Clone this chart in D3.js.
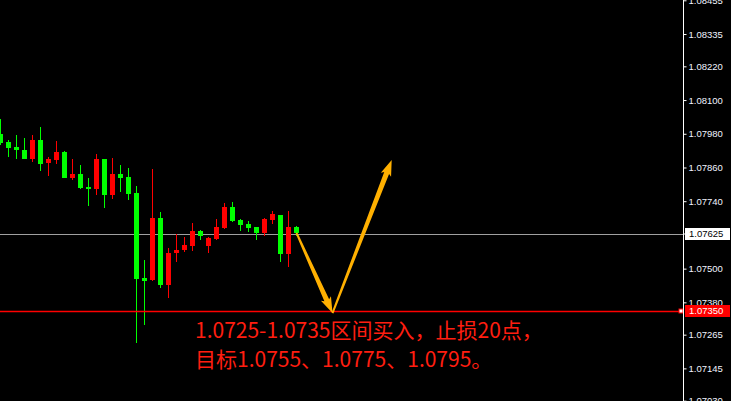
<!DOCTYPE html>
<html>
<head>
<meta charset="utf-8">
<script src="https://cdn.jsdelivr.net/npm/d3@7"></script>
<style>
  html, body { margin: 0; padding: 0; background: #000; }
  svg { display: block; }
</style>
</head>
<body>
<svg id="chart" width="731" height="401"></svg>
<script>
// ---- data (EURUSD-like candles) ----
const opens  = [1.07947,1.07929,1.07922,1.07890,1.07958,1.07872,1.07890,1.07915,1.07823,1.07837,
                1.07787,1.07783,1.07890,1.07762,1.07837,1.07823,1.07766,1.07463,1.07456,1.07680,
                1.07442,1.07556,1.07566,1.07584,1.07634,1.07616,1.07609,1.07648,1.07719,1.07670,
                1.07655,1.07645,1.07627,1.07677,1.07694,1.07552,1.07648,1.07627];
const highs  = [1.08033,1.07958,1.07976,1.07965,1.07976,1.08004,1.07897,1.07954,1.07919,1.07890,
                1.07869,1.07823,1.07908,1.07890,1.07894,1.07869,1.07858,1.07794,1.07531,1.07855,
                1.07702,1.07573,1.07623,1.07613,1.07662,1.07637,1.07613,1.07677,1.07734,1.07737,
                1.07677,1.07670,1.07648,1.07680,1.07705,1.07691,1.07705,1.07652];
const lows   = [1.07940,1.07897,1.07890,1.07890,1.07880,1.07847,1.07830,1.07872,1.07823,1.07815,
                1.07783,1.07723,1.07762,1.07716,1.07748,1.07773,1.07744,1.07235,1.07299,1.07456,
                1.07431,1.07395,1.07524,1.07559,1.07563,1.07602,1.07556,1.07602,1.07641,1.07666,
                1.07634,1.07630,1.07602,1.07616,1.07659,1.07524,1.07506,1.07616];
const closes = [1.07979,1.07951,1.07933,1.07922,1.07890,1.07958,1.07876,1.07887,1.07915,1.07823,
                1.07837,1.07791,1.07783,1.07890,1.07762,1.07837,1.07826,1.07769,1.07467,1.07460,
                1.07680,1.07442,1.07556,1.07566,1.07581,1.07634,1.07581,1.07605,1.07645,1.07719,
                1.07673,1.07659,1.07648,1.07627,1.07673,1.07691,1.07552,1.07648];

const tickLabels = ["1.08455","1.08335","1.08220","1.08100","1.07980","1.07860","1.07740",
                    "1.07625","1.07500","1.07380","1.07265","1.07145","1.07030"];
const currentPrice = 1.07625;   // grey price line
const entryPrice   = 1.07350;   // red level line
// arrows: [bar index, price]
const arrowDown = [[37, 1.07627], [41.5, 1.07342]];
const arrowUp   = [[41.5, 1.07342], [48.9, 1.07887]];
const noteLines = ["1.0725-1.0735区间买入，止损20点，", "目标1.0755、1.0775、1.0795。"];

// ---- drawing ----
const svg = d3.select("#chart");
const W = 731, H = 401, axisX = 683.5;

svg.append("rect").attr("width", W).attr("height", H).attr("fill", "#000");

const x = d3.scaleLinear().domain([0, 37]).range([0.5, 296.5]);
const y = d3.scaleLinear().domain([1.07030, 1.08455]).range([400.7, 0.3]);

const bars = d3.range(opens.length).map(i => ({
  i, o: opens[i], h: highs[i], l: lows[i], c: closes[i]
}));

// price lines
svg.append("line")
  .attr("x1", 0).attr("x2", axisX)
  .attr("y1", Math.round(y(currentPrice)) + 0.5).attr("y2", Math.round(y(currentPrice)) + 0.5)
  .attr("stroke", "#a0a0a0").attr("stroke-width", 1);

const gC = svg.append("g").attr("shape-rendering", "crispEdges");
gC.selectAll("line.wick").data(bars).join("line")
  .attr("class", "wick")
  .attr("x1", d => x(d.i)).attr("x2", d => x(d.i))
  .attr("y1", d => y(d.h)).attr("y2", d => y(d.l))
  .attr("stroke", d => d.c >= d.o ? "#00ff00" : "#ff0000")
  .attr("stroke-width", 1);
gC.selectAll("rect.body").data(bars).join("rect")
  .attr("class", "body")
  .attr("x", d => x(d.i) - 2.5)
  .attr("width", 5)
  .attr("y", d => y(Math.max(d.o, d.c)))
  .attr("height", d => Math.max(1.5, y(Math.min(d.o, d.c)) - y(Math.max(d.o, d.c))))
  .attr("fill", d => d.c >= d.o ? "#00ff00" : "#ff0000");

// red entry line
const yEntry = Math.round(y(entryPrice)) + 0.5;
svg.append("line")
  .attr("x1", 0).attr("x2", 680)
  .attr("y1", yEntry).attr("y2", yEntry)
  .attr("stroke", "#ff0000").attr("stroke-width", 1.3);
svg.append("rect")
  .attr("x", 679).attr("y", yEntry - 2.5).attr("width", 4).attr("height", 4)
  .attr("fill", "#fff").attr("stroke", "#ff0000").attr("stroke-width", 1);

// arrows
function arrowPath(p0, p1) {
  const x0 = x(p0[0]), y0 = y(p0[1]), x1 = x(p1[0]), y1 = y(p1[1]);
  const dx = x1 - x0, dy = y1 - y0, len = Math.hypot(dx, dy);
  const ux = dx / len, uy = dy / len, nx = -uy, ny = ux;
  const hl = 14, hw = 5.5, w0 = 1.0, w1 = 2.6;
  const bx = x1 - ux * hl, by = y1 - uy * hl;
  const pts = [
    [x0 + nx * w0, y0 + ny * w0],
    [bx + nx * w1, by + ny * w1],
    [bx + nx * hw - ux * 2, by + ny * hw - uy * 2],
    [x1, y1],
    [bx - nx * hw - ux * 2, by - ny * hw - uy * 2],
    [bx - nx * w1, by - ny * w1],
    [x0 - nx * w0, y0 - ny * w0]
  ];
  return "M" + pts.map(p => p.join(",")).join("L") + "Z";
}
svg.selectAll("path.arrow").data([arrowDown, arrowUp]).join("path")
  .attr("class", "arrow")
  .attr("d", d => arrowPath(d[0], d[1]))
  .attr("fill", "#ffb000");

// axis
svg.append("line")
  .attr("x1", axisX).attr("x2", axisX).attr("y1", 0).attr("y2", H)
  .attr("stroke", "#ffffff").attr("stroke-width", 1);

const axis = d3.axisRight(y)
  .tickValues(tickLabels.map(Number))
  .tickFormat((d, i) => tickLabels[i])
  .tickSize(3).tickPadding(2);
const gA = svg.append("g").attr("transform", `translate(${axisX},0)`).call(axis);
gA.select(".domain").remove();
gA.selectAll(".tick line").attr("stroke", "#fff");
gA.selectAll(".tick text")
  .attr("fill", "#f0f4ff")
  .attr("font-family", "Liberation Sans, Arial, sans-serif")
  .attr("font-size", "9.5px");

// price label boxes
function priceBox(price, bg, fg) {
  const cy = y(price);
  svg.append("rect")
    .attr("x", 685).attr("y", Math.round(cy) - 6).attr("width", 45).attr("height", 12)
    .attr("fill", bg);
  svg.append("text")
    .attr("x", 689).attr("y", cy).attr("dy", "0.35em")
    .attr("fill", fg)
    .attr("font-family", "Liberation Sans, Arial, sans-serif")
    .attr("font-size", "9.5px")
    .text(price.toFixed(5));
}
priceBox(currentPrice, "#ffffff", "#000000");
priceBox(entryPrice, "#ff0000", "#ffffff");

// annotation text
svg.selectAll("text.note").data(noteLines).join("text")
  .attr("class", "note")
  .attr("x", 195)
  .attr("y", (d, i) => 338 + i * 29)
  .attr("fill", "#ff1e10")
  .attr("font-family", "Noto Sans CJK SC, sans-serif")
  .attr("font-size", "21px")
  .text(d => d);
</script>
</body>
</html>
